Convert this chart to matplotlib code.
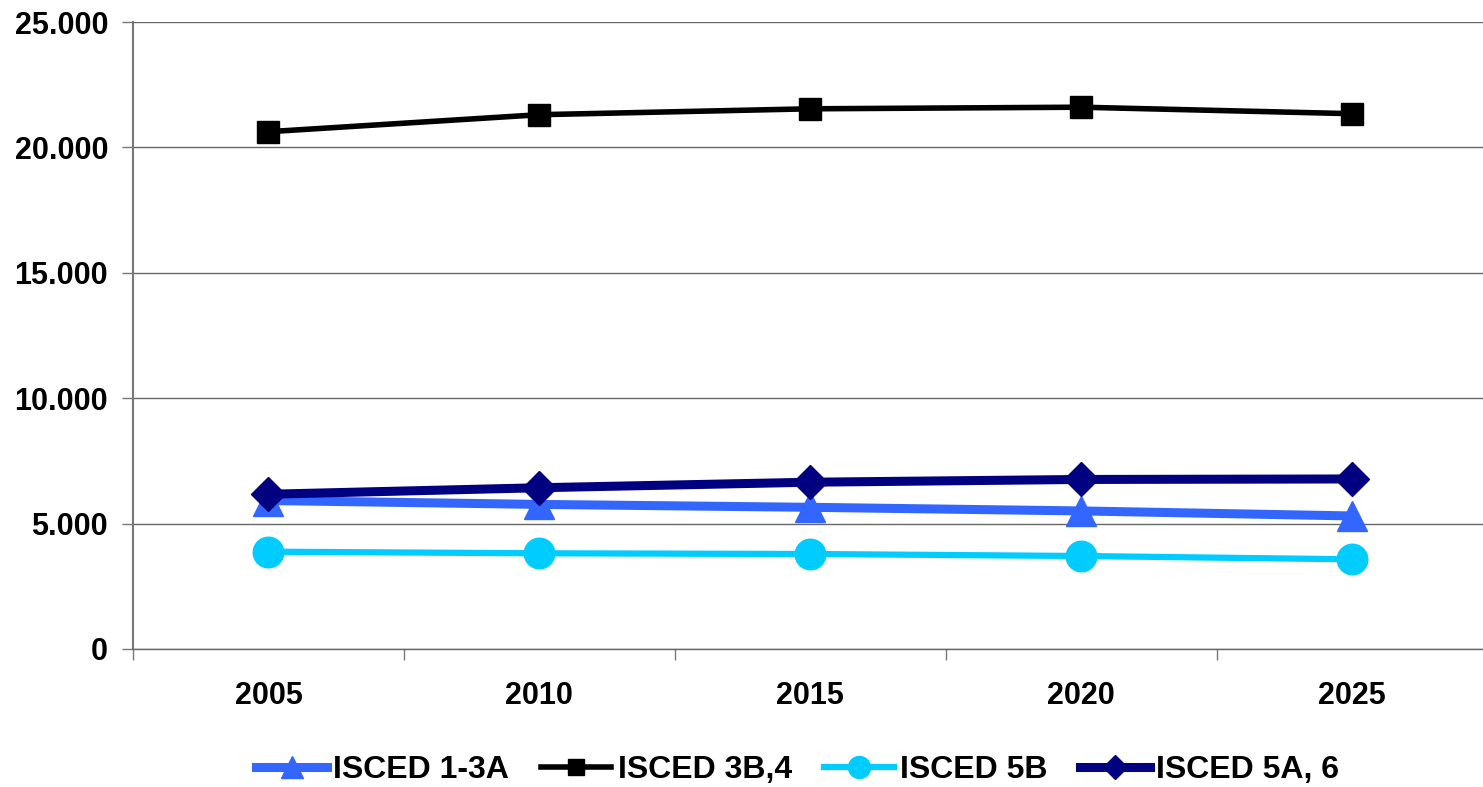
import matplotlib
matplotlib.use("Agg")
import matplotlib.pyplot as plt
from matplotlib.ticker import FixedLocator, FuncFormatter

years = ["2005", "2010", "2015", "2020", "2025"]
isced_1_3a = [5920, 5765, 5650, 5505, 5305]
isced_3b4 = [20626, 21304, 21539, 21603, 21344]
isced_5b = [3880, 3816, 3788, 3708, 3577]
isced_5a6 = [6170, 6430, 6650, 6760, 6780]
y_ticks = [0, 5000, 10000, 15000, 20000, 25000]

plt.rcParams['font.family'] = ['Liberation Sans', 'DejaVu Sans']
plt.rcParams['font.weight'] = 'bold'

fig = plt.figure(figsize=(14.83, 7.87), dpi=100)
ax = fig.add_axes([133/1483, 1 - 649/787, 1 - 133/1483 + 0.003, (649 - 22)/787])

x = list(range(len(years)))
ax.plot(x, isced_1_3a, color='#3366FF', lw=6.5, marker='^', ms=22, label='ISCED 1-3A', zorder=3)
ax.plot(x, isced_3b4, color='#000000', lw=4, marker='s', ms=16.5, label='ISCED 3B,4', zorder=3)
ax.plot(x, isced_5b, color='#00CCFF', lw=4.5, marker='o', ms=22, label='ISCED 5B', zorder=3)
ax.plot(x, isced_5a6, color='#000080', lw=6.5, marker='D', ms=17, label='ISCED 5A, 6', zorder=4)

ax.set_xlim(-0.5, len(years) - 0.5)
ax.set_ylim(0, 25000)
ax.set_yticks(y_ticks)
ax.yaxis.set_major_formatter(FuncFormatter(lambda v, p: f"{int(v):,}".replace(",", ".")))
ax.set_xticks(x)
ax.set_xticklabels(years)
ax.xaxis.set_minor_locator(FixedLocator([i - 0.5 for i in range(len(years) + 1)]))
ax.tick_params(axis='x', which='major', length=0, pad=23, labelsize=22)
ax.tick_params(axis='x', which='minor', length=8, width=1, color='#777777', direction='out')
ax.tick_params(axis='y', length=8, width=1, color='#777777', pad=10, labelsize=22)
for lbl in ax.get_xticklabels() + ax.get_yticklabels():
    lbl.set_fontweight('bold')

ax.grid(axis='y', color='#666666', lw=1)
ax.set_axisbelow(True)
for s in ['top', 'right']:
    ax.spines[s].set_visible(False)
ax.spines['left'].set_color('#777777')
ax.spines['left'].set_linewidth(1.5)
ax.spines['bottom'].set_color('#666666')
ax.spines['bottom'].set_linewidth(1)

leg = fig.legend(loc='center', bbox_to_anchor=(798/1483, 1 - 770/787), ncol=4, frameon=False,
                 prop={'size': 23, 'weight': 'bold'}, handlelength=2.2, handletextpad=0.2,
                 columnspacing=1.0, markerscale=0.72)

fig.savefig('out.png', dpi=100)
